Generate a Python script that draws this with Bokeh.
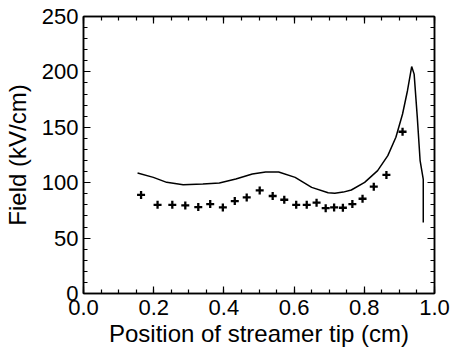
from bokeh.plotting import figure
from bokeh.models import LinearAxis, Range1d, FixedTicker, NumeralTickFormatter, CustomLabelingPolicy
from bokeh.embed import file_html
from bokeh.resources import INLINE

# Simulated field at streamer tip (solid line)
line_x = [0.154, 0.199, 0.237, 0.284, 0.34, 0.387, 0.434, 0.481, 0.519, 0.556, 0.603,
          0.65, 0.697, 0.716, 0.74, 0.763, 0.801, 0.838, 0.867, 0.89, 0.909, 0.923, 0.935,
          0.942, 0.951, 0.959, 0.968, 0.968]
line_y = [108.8, 104.8, 100.3, 98.2, 98.8, 99.7, 103.3, 107.9, 109.7, 109.7, 104.8,
          95.8, 90.9, 90.5, 91.5, 93.4, 100.3, 110.9, 124.4, 141, 162, 183, 204.8,
          198, 159, 120, 103, 64]

# Measured field (plus markers)
pts_x = [0.164, 0.211, 0.253, 0.29, 0.327, 0.361, 0.397, 0.431, 0.465, 0.502, 0.539,
         0.572, 0.606, 0.636, 0.664, 0.69, 0.714, 0.739, 0.766, 0.795, 0.827, 0.863, 0.909]
pts_y = [89, 80, 80, 79.5, 78, 80.7, 77.7, 83.4, 86.7, 93, 88,
         84.6, 80, 80, 82, 77, 77.7, 77.4, 80.7, 85.5, 96.4, 107, 146]

x_ticks = [0.0, 0.2, 0.4, 0.6, 0.8, 1.0]
y_ticks = [0, 50, 100, 150, 200, 250]

FONT = "Liberation Sans"

p = figure(width=455, height=351, output_backend="svg", toolbar_location=None,
           x_range=Range1d(0, 1), y_range=Range1d(0, 250),
           min_border_left=83, min_border_right=18, min_border_top=16, min_border_bottom=58)
p.xgrid.visible = False
p.ygrid.visible = False
p.outline_line_color = "black"
p.outline_line_width = 1.5
p.background_fill_color = "white"
p.border_fill_color = "white"

p.line(line_x, line_y, line_color="black", line_width=1.5)
p.scatter(pts_x, pts_y, marker="cross", size=8, line_color="black", line_width=2.3)

hide_labels = CustomLabelingPolicy(code="""
const all = [...indices]
for (const i of all) indices.unset(i)
return indices
""")

def style(ax, ticks, minor, labels=True):
    ax.ticker = FixedTicker(ticks=ticks, minor_ticks=minor)
    ax.major_tick_in = 7
    ax.major_tick_out = 0
    ax.minor_tick_in = 4
    ax.minor_tick_out = 0
    ax.axis_line_color = "black"
    ax.axis_line_width = 1.5
    ax.major_tick_line_color = "black"
    ax.minor_tick_line_color = "black"
    ax.major_tick_line_width = 1.2
    ax.minor_tick_line_width = 1.2
    if labels:
        ax.major_label_text_font = FONT
        ax.major_label_text_font_size = "22px"
        ax.major_label_text_color = "black"
        ax.axis_label_text_font = FONT
        ax.axis_label_text_font_size = "24px"
        ax.axis_label_text_font_style = "normal"
        ax.axis_label_text_color = "black"
    else:
        ax.major_label_policy = hide_labels
        ax.major_label_standoff = 0

x_minor = [round(i * 0.05, 2) for i in range(21)]
y_minor = list(range(0, 251, 10))

p.xaxis.axis_label = "Position of streamer tip (cm)"
p.yaxis.axis_label = "Field (kV/cm)"
style(p.xaxis[0], x_ticks, x_minor)
style(p.yaxis[0], y_ticks, y_minor)
p.xaxis.formatter = NumeralTickFormatter(format="0.0")
p.xaxis.major_label_standoff = 6
p.xaxis.axis_label_standoff = 2
p.yaxis.major_label_standoff = 5
p.yaxis.axis_label_standoff = 8

top = LinearAxis()
right = LinearAxis()
style(top, x_ticks, x_minor, labels=False)
style(right, y_ticks, y_minor, labels=False)
p.add_layout(top, "above")
p.add_layout(right, "right")

open("out.html", "w").write(file_html(p, INLINE))
